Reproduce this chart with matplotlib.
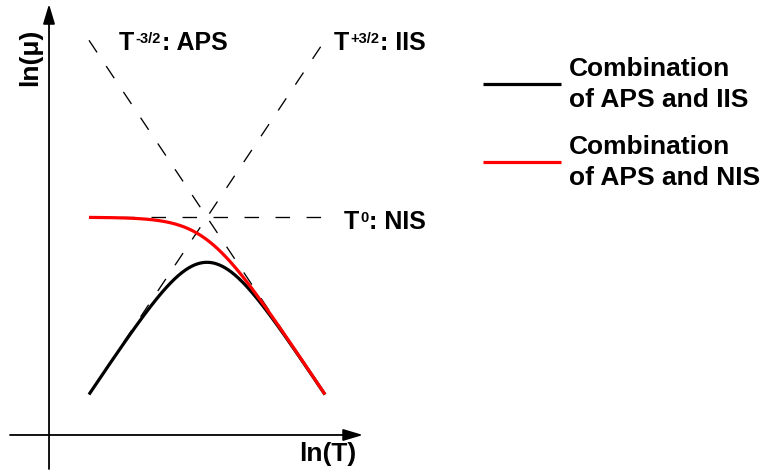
import numpy as np
import matplotlib.pyplot as plt

# bold Arial-like text everywhere
plt.rcParams.update({
    'font.family': 'Liberation Sans',
    'font.weight': 'bold',
})

# scattering mechanisms: mobility ~ T^p
mechanisms = ['APS', 'IIS', 'NIS']
exponents = [-1.5, 1.5, 0.0]
exp_labels = ['-3/2', '+3/2', '0']

# where the three power laws meet, and the ln(T) span drawn
lnT0, lnmu0 = 2.43, 3.35
lnT_range = [0.615, 4.246]

# combined curves: (pair of mechanisms, Matthiessen order, colour, label)
combos = [
    (('APS', 'IIS'), 1.0, 'black', 'Combination\nof APS and IIS'),
    (('APS', 'NIS'), 2.0, '#ff0000', 'Combination\nof APS and NIS'),
]

lnT = np.linspace(lnT_range[0], lnT_range[1], 400)


def power_law(p):
    return lnmu0 + p * (lnT - lnT0)


def power_label(ax, x, y, sup, name, size=18, sup_size=10.5):
    # "T" + small superscript + ": NAME", glued together
    t1 = ax.text(x, y, 'T', fontsize=size, va='baseline')
    t2 = ax.annotate(sup, xy=(1, 1), xycoords=t1, xytext=(0.6, -0.6),
                     textcoords='offset points', va='top', fontsize=sup_size)
    ax.annotate(': ' + name, xy=(1, 0), xycoords=(t2, t1), xytext=(0.8, 0),
                textcoords='offset points', va='bottom', fontsize=size)


fig = plt.figure(figsize=(7.62, 4.77), dpi=100)
ax = fig.add_axes([0, 0, 1, 1])
ax.set_xlim(-0.754, 10.969)
ax.set_ylim(-0.631, 6.708)
ax.axis('off')

# dashed single-mechanism lines
for p in exponents:
    ax.plot(lnT, power_law(p), color='black', lw=0.95,
            dashes=(11, 12.5), zorder=2)

# 1/mu^n = sum 1/mu_i^n
handles = []
for (m1, m2), n, col, lab in combos:
    a = power_law(exponents[mechanisms.index(m1)])
    b = power_law(exponents[mechanisms.index(m2)])
    lnmu = -np.logaddexp(-n * a, -n * b) / n
    h, = ax.plot(lnT, lnmu, color=col, lw=2.3, label=lab,
                 solid_capstyle='butt', zorder=3)
    handles.append(h)

# labels of the power laws
power_label(ax, 1.077, 5.938, exp_labels[0], mechanisms[0])
power_label(ax, 4.385, 5.938, exp_labels[1], mechanisms[1])
power_label(ax, 4.538, 3.185, exp_labels[2], mechanisms[2])

# coordinate axes with arrow heads
arrow = dict(arrowstyle='-|>,head_length=1.2,head_width=0.36',
             color='black', lw=1.3, shrinkA=0, shrinkB=0)
ax.annotate('', xy=(4.83, 0), xytext=(-0.6, 0), arrowprops=arrow)
ax.annotate('', xy=(0, 6.63), xytext=(0, -0.523), arrowprops=arrow)
ax.text(4.29, -0.392, 'ln(T)', fontsize=19, ha='center', va='baseline')
ax.text(-0.29, 5.82, 'ln(μ)', fontsize=19, ha='center', va='center',
        rotation=90)

leg = fig.legend(handles=handles, loc='upper left',
                 bbox_to_anchor=(0.634, 0.8805), frameon=False,
                 fontsize=19, handlelength=2.96, handletextpad=0.3,
                 labelspacing=0.88, borderpad=0, borderaxespad=0)
for t in leg.get_texts():
    t.set_linespacing(1.36)

fig.savefig('out.png', dpi=100)
